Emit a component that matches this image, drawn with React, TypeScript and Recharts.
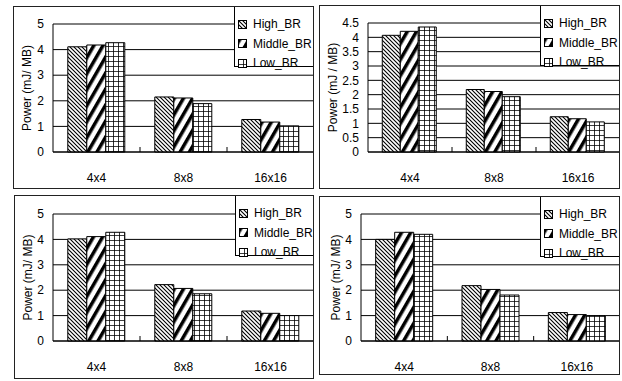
import React from 'react';
import { BarChart, Bar, XAxis, YAxis, CartesianGrid, Legend } from 'recharts';

const categories = ['4x4', '8x8', '16x16'];
const seriesNames = ['High_BR', 'Middle_BR', 'Low_BR'];
const seriesFills = ['url(#hatchHigh)', 'url(#hatchMiddle)', 'url(#hatchLow)'];

const p1High = [4.11, 2.15, 1.27];
const p1Middle = [4.18, 2.11, 1.17];
const p1Low = [4.27, 1.89, 1.02];

const p2High = [4.07, 2.18, 1.23];
const p2Middle = [4.21, 2.11, 1.16];
const p2Low = [4.36, 1.93, 1.05];

const p3High = [4.02, 2.22, 1.18];
const p3Middle = [4.11, 2.07, 1.09];
const p3Low = [4.28, 1.86, 1.0];

const p4High = [4.0, 2.18, 1.12];
const p4Middle = [4.28, 2.03, 1.04];
const p4Low = [4.2, 1.81, 1.0];

const ticksInt = [0, 1, 2, 3, 4, 5];
const ticksHalf = [0, 0.5, 1, 1.5, 2, 2.5, 3, 3.5, 4, 4.5];

const FONT = '"Liberation Sans", Arial, sans-serif';

const buildRows = (high: number[], middle: number[], low: number[]) =>
  categories.map((cat, i) => ({
    cat,
    [seriesNames[0]]: high[i],
    [seriesNames[1]]: middle[i],
    [seriesNames[2]]: low[i],
  }));

const panels = [
  { left: 13, top: 6, w: 301, h: 183, plotLeft: 40, plotTop: 18, xh: 37, titleX: 14, title: 'Power (mJ/ MB)', ticks: ticksInt, max: 5, rows: buildRows(p1High, p1Middle, p1Low) },
  { left: 319, top: 5, w: 301, h: 184, plotLeft: 49, plotTop: 18, xh: 37, titleX: 14, title: 'Power (mJ / MB)', ticks: ticksHalf, max: 4.5, rows: buildRows(p2High, p2Middle, p2Low) },
  { left: 14, top: 195, w: 300, h: 184, plotLeft: 39, plotTop: 19, xh: 38, titleX: 14, title: 'Power (mJ/ MB)', ticks: ticksInt, max: 5, rows: buildRows(p3High, p3Middle, p3Low) },
  { left: 319, top: 196, w: 301, h: 179, plotLeft: 42, plotTop: 18, xh: 34, titleX: 17, title: 'Power (mJ/ MB)', ticks: ticksInt, max: 5, rows: buildRows(p4High, p4Middle, p4Low) },
];

const CatTick = (props: any) => {
  const { x, y, payload, index, width, visibleTicksCount } = props;
  const band = (width || 264) / (visibleTicksCount || 3);
  return (
    <g>
      {index > 0 && (
        <line x1={x - band / 2} x2={x - band / 2} y1={y} y2={y - 5} stroke="#000" />
      )}
      <text x={x} y={y + 26} dy="0.35em" textAnchor="middle" fontSize={12} fill="#000" fontFamily={FONT}>
        {payload.value}
      </text>
    </g>
  );
};

const YTitle = (props: any) => {
  const { viewBox, value, dx } = props;
  const cx = (viewBox?.x || 0) + dx;
  const cy = (viewBox?.y || 0) + (viewBox?.height || 0) / 2;
  return (
    <text x={cx} y={cy} transform={`rotate(-90 ${cx} ${cy})`} textAnchor="middle" dominantBaseline="central" fontSize={12} fill="#000" fontFamily={FONT}>
      {value}
    </text>
  );
};

const LegendBox = (props: any) => {
  const items = [...(props.payload || [])].sort(
    (a: any, b: any) => seriesNames.indexOf(a.value) - seriesNames.indexOf(b.value)
  );
  return (
    <div style={{ border: '1px solid #000', background: '#fff', height: 61, boxSizing: 'border-box', position: 'relative', fontFamily: FONT, fontSize: 12, color: '#000' }}>
      {items.map((e: any, i: number) => (
        <div key={e.value} style={{ position: 'absolute', left: 3, top: 10 + i * 19.5, height: 14, display: 'flex', alignItems: 'center', whiteSpace: 'nowrap' }}>
          <svg width={9} height={9}>
            <rect x={0.5} y={0.5} width={8} height={8} fill={e.color} stroke="#000" />
          </svg>
          <span style={{ marginLeft: 6, lineHeight: '14px' }}>{e.value}</span>
        </div>
      ))}
    </div>
  );
};

const Panel = ({ p }: { p: (typeof panels)[number] }) => (
  <div style={{ position: 'absolute', left: p.left, top: p.top, width: p.w, height: p.h, overflow: 'hidden' }}>
    <BarChart
      width={p.w}
      height={p.h}
      data={p.rows}
      margin={{ top: p.plotTop, right: 0, bottom: 0, left: 0 }}
      barCategoryGap="17%"
      barGap={0}
    >
      <CartesianGrid horizontal vertical={false} stroke="#000" />
      <XAxis
        dataKey="cat"
        height={p.xh}
        axisLine={{ stroke: '#000' }}
        tickLine={false}
        tickSize={0}
        tickMargin={0}
        tick={<CatTick />}
        interval={0}
      />
      <YAxis
        width={p.plotLeft}
        domain={[0, p.max]}
        ticks={p.ticks}
        interval={0}
        axisLine={{ stroke: '#000' }}
        tickLine={false}
        tickSize={0}
        tickMargin={9}
        tick={{ fontSize: 12, fill: '#000', fontFamily: FONT }}
        label={<YTitle value={p.title} dx={p.titleX} />}
      />
      <Legend
        layout="vertical"
        align="center"
        verticalAlign="middle"
        wrapperStyle={{ left: 221, top: 0, width: p.w - 221, height: 61 }}
        content={<LegendBox />}
      />
      {seriesNames.map((name, i) => (
        <Bar key={name} dataKey={name} name={name} fill={seriesFills[i]} stroke="#000" strokeWidth={1} isAnimationActive={false} />
      ))}
    </BarChart>
    <div style={{ position: 'absolute', left: 0, top: 0, width: p.w, height: p.h, border: '1px solid #222', boxSizing: 'border-box', pointerEvents: 'none' }} />
  </div>
);

export default function App() {
  return (
    <div style={{ position: 'absolute', left: 0, top: 0, width: 622, height: 381, background: '#fff', fontFamily: FONT }}>
      <svg width={0} height={0} style={{ position: 'absolute' }}>
        <defs>
          <pattern id="hatchHigh" patternUnits="userSpaceOnUse" width={4} height={4}>
            <rect width={4} height={4} fill="#fff" />
            <path d="M-1,-1 L5,5 M3,-1 L5,1 M-1,3 L1,5" stroke="#000" strokeWidth={1.1} />
          </pattern>
          <pattern id="hatchMiddle" patternUnits="userSpaceOnUse" width={8} height={8} patternTransform="rotate(30)">
            <rect width={8} height={8} fill="#fff" />
            <rect width={3.5} height={8} fill="#000" />
          </pattern>
          <pattern id="hatchLow" patternUnits="userSpaceOnUse" width={5} height={5}>
            <rect width={5} height={5} fill="#fff" />
            <path d="M0,0 H5 M0,0 V5" stroke="#000" strokeWidth={1.6} />
          </pattern>
        </defs>
      </svg>
      {panels.map((p, i) => (
        <Panel key={i} p={p} />
      ))}
    </div>
  );
}
